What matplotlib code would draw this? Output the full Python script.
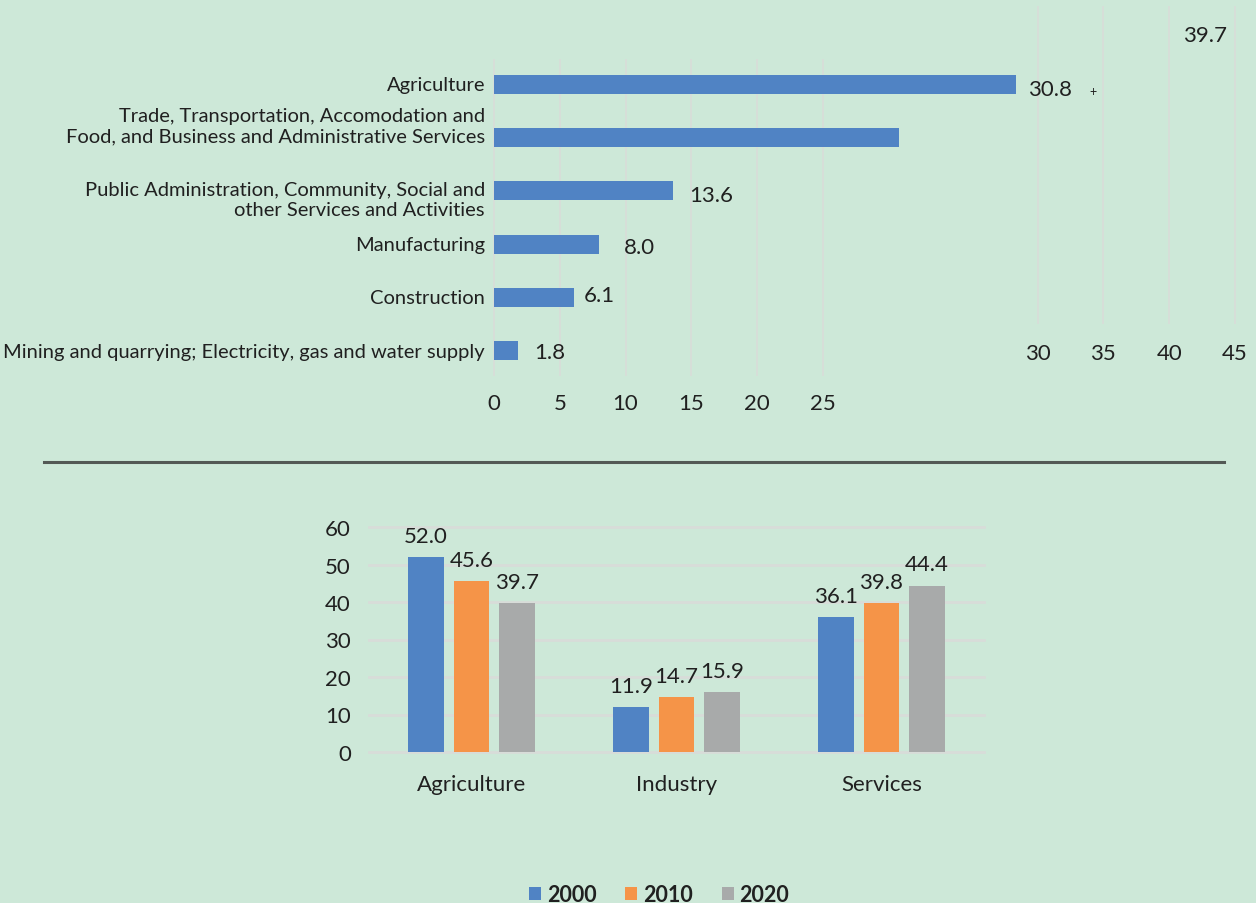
import matplotlib
matplotlib.use('Agg')
import matplotlib.pyplot as plt
from matplotlib.lines import Line2D
import numpy as np

plt.rcParams['font.family'] = ['Lato', 'DejaVu Sans']

# employment share by sector (top panel)
sectors = [
    'Agriculture',
    'Trade, Transportation, Accomodation and\nFood, and Business and Administrative Services',
    'Public Administration, Community, Social and\nother Services and Activities',
    'Manufacturing',
    'Construction',
    'Mining and quarrying; Electricity, gas and water supply',
]
sector_share = [39.7, 30.8, 13.6, 8.0, 6.1, 1.8]
# where each value label sits relative to its bar end (points: right, up)
value_nudge = [(120, 36), (93, 35), (11.5, -3), (18, -2), (6.5, 2), (12, -1)]
# small vertical shifts for the category names (points)
name_nudge = [0, 8.6, -6.1, 0, 0, -1]

# broad sectors over time (bottom panel)
groups = ['Agriculture', 'Industry', 'Services']
years = ['2000', '2010', '2020']
share_2000 = [52.0, 11.9, 36.1]
share_2010 = [45.6, 14.7, 39.8]
share_2020 = [39.7, 15.9, 44.4]

bg = '#cde8d8'
blue = '#5083c4'
orange = '#f59448'
grey = '#a8aaaa'
grid_c = '#d8dcd9'
ink = '#202020'

W, H = 1256, 904
fig = plt.figure(figsize=(W / 100, H / 100), dpi=100, facecolor=bg)


def box(x0, y0, x1, y1):
    # pixel box (top-left origin) -> figure fraction rect
    return [x0 / W, 1 - y1 / H, (x1 - x0) / W, (y1 - y0) / H]


# second scale on the right (30..45), kept underneath the bars panel
ax2 = fig.add_axes(box(643, 7, 1241.5, 325))
ax2.set_zorder(0)
ax2.set_facecolor('none')
ax2.set_xlim(0, 45.5)
ax2.set_xticks([30, 35, 40, 45])
ax2.set_yticks([])
ax2.tick_params(axis='x', length=0, pad=14, labelsize=16, labelcolor=ink)
ax2.grid(axis='x', color=grid_c, lw=1.2, zorder=0)
for s in ax2.spines.values():
    s.set_visible(False)

# ---- top panel: horizontal bars ----
ax = fig.add_axes(box(487.4, 60, 1086, 377))
ax.set_zorder(1)
ax.set_facecolor('none')
ypos = np.arange(len(sectors))[::-1]
ax.barh(ypos, sector_share, height=0.357, color=blue, zorder=3)
ax.set_xlim(-0.5, 45)
ax.set_ylim(-0.48, 5.48)
ax.set_xticks([0, 5, 10, 15, 20, 25])
ax.set_yticks([])
ax.tick_params(axis='x', length=0, pad=12, labelsize=16, labelcolor=ink)
ax.grid(axis='x', color=grid_c, lw=1.2, zorder=0)
for s in ax.spines.values():
    s.set_visible(False)

for y, name, dy in zip(ypos, sectors, name_nudge):
    ax.annotate(name, (0, y), xytext=(-6.5, dy), textcoords='offset points',
                ha='right', va='center', ma='right', fontsize=14.5,
                color=ink, annotation_clip=False)

for y, v, (dx, dy) in zip(ypos, sector_share, value_nudge):
    ax.annotate(f'{v:.1f}', (v, y), xytext=(dx, dy), textcoords='offset points',
                ha='left', va='center', fontsize=16, color=ink,
                annotation_clip=False, zorder=5)

# stray marker next to the agriculture value
ax.annotate('+', (sector_share[0], ypos[0]), xytext=(55.5, -5),
            textcoords='offset points', ha='center', va='center',
            fontsize=9, color=ink, annotation_clip=False)

# divider between the panels
fig.add_artist(Line2D([44 / W, 1224 / W], [1 - 462.5 / H] * 2,
                      color='#535955', lw=2.2))

# ---- bottom panel: grouped columns ----
ax3 = fig.add_axes(box(369, 528, 984, 753))
ax3.set_facecolor('none')
x = np.arange(len(groups))
bw = 0.1756
step = 0.222
for i, (vals, col, yr) in enumerate(zip([share_2000, share_2010, share_2020],
                                        [blue, orange, grey], years)):
    bars = ax3.bar(x + (i - 1) * step, vals, width=bw, color=col, label=yr, zorder=3)
    ax3.bar_label(bars, fmt='%.1f', padding=8, fontsize=16, color=ink)

ax3.set_xlim(-0.5, 2.5)
ax3.set_ylim(0, 60)
ax3.set_yticks(range(0, 61, 10))
ax3.set_xticks(x)
ax3.set_xticklabels(groups)
ax3.tick_params(axis='y', length=0, pad=13, labelsize=16, labelcolor=ink)
ax3.tick_params(axis='x', length=0, pad=15.5, labelsize=16, labelcolor=ink)
ax3.grid(axis='y', color=grid_c, lw=2, zorder=0)
for gl in ax3.get_ygridlines():
    gl.set_clip_on(False)
for s in ax3.spines.values():
    s.set_visible(False)

leg = fig.legend(loc='center', bbox_to_anchor=(659 / W, 1 - 896 / H),
                 ncol=3, frameon=False, handlelength=0.56, handleheight=0.56,
                 handletextpad=0.25, columnspacing=1.35, borderpad=0,
                 prop={'size': 15.5, 'weight': 'bold'})
for t in leg.get_texts():
    t.set_color(ink)

fig.savefig('out.png', dpi=100, facecolor=bg)
